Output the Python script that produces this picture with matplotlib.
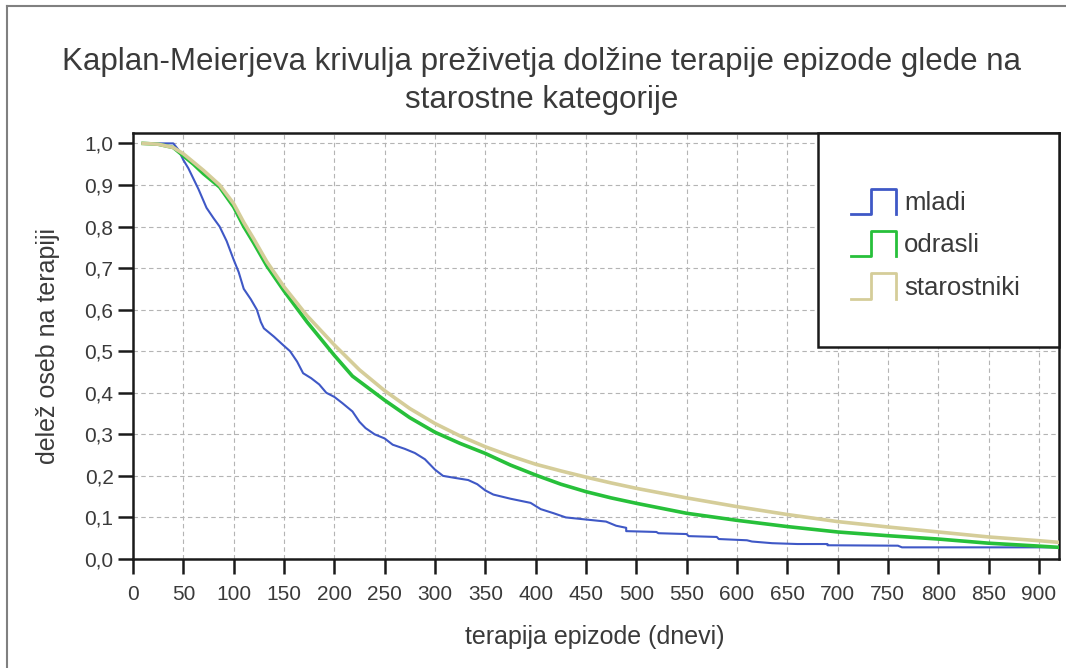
"""Kaplan-Meier survival curves of therapy episode length by age group."""
import matplotlib

matplotlib.use("Agg")
import matplotlib.pyplot as plt
from matplotlib.legend_handler import HandlerBase
from matplotlib.lines import Line2D
from matplotlib.patches import Rectangle
from matplotlib.ticker import FuncFormatter

plt.rcParams["font.family"] = ["Liberation Sans", "DejaVu Sans"]

# mladi (KM estimate; repeated x values mark the visible drops)
days_young = [10, 40, 45, 50, 55, 60, 65, 73, 80, 86, 93, 100, 105, 110, 117,
              123, 127, 130, 140, 149, 156, 163, 169, 177, 185, 192, 200, 208,
              218, 225, 231, 240, 250, 258, 270, 280, 290, 300, 308, 320, 333,
              342, 350, 358, 375, 395, 405, 418, 430, 450, 470, 480, 490, 490,
              520, 522, 550, 552, 580, 582, 610, 615, 635, 660, 690, 690, 760,
              764, 920]
surv_young = [1.0, 1.0, 0.985, 0.96, 0.94, 0.915, 0.89, 0.845, 0.82, 0.80, 0.765,
              0.72, 0.69, 0.65, 0.625, 0.60, 0.57, 0.555, 0.535, 0.515, 0.50,
              0.475, 0.447, 0.435, 0.42, 0.40, 0.39, 0.375, 0.355, 0.33, 0.315,
              0.30, 0.29, 0.275, 0.265, 0.255, 0.24, 0.215, 0.20, 0.195, 0.19,
              0.18, 0.165, 0.155, 0.145, 0.135, 0.12, 0.11, 0.10, 0.095, 0.09,
              0.08, 0.075, 0.067, 0.065, 0.062, 0.06, 0.055, 0.053, 0.048, 0.045,
              0.042, 0.038, 0.036, 0.036, 0.033, 0.032, 0.028, 0.028]

# odrasli
days_adult = [10, 25, 40, 50, 60, 70, 86, 100, 110, 120, 133, 150, 173, 200,
              218, 250, 275, 300, 325, 350, 375, 400, 425, 450, 475, 500, 550,
              600, 650, 700, 750, 800, 850, 900, 920]
surv_adult = [1.0, 0.998, 0.99, 0.97, 0.95, 0.927, 0.895, 0.847, 0.80, 0.76,
              0.705, 0.645, 0.57, 0.49, 0.44, 0.382, 0.34, 0.305, 0.278, 0.254,
              0.226, 0.202, 0.18, 0.162, 0.147, 0.134, 0.11, 0.093, 0.078,
              0.065, 0.056, 0.048, 0.038, 0.031, 0.028]

# starostniki
days_old = [10, 25, 40, 50, 60, 70, 86, 100, 110, 120, 133, 150, 173, 200,
            225, 250, 275, 300, 325, 350, 375, 400, 425, 450, 475, 500, 550,
            600, 650, 700, 750, 800, 850, 900, 920]
surv_old = [1.0, 0.998, 0.99, 0.975, 0.955, 0.935, 0.90, 0.855, 0.81, 0.77,
            0.715, 0.655, 0.585, 0.515, 0.455, 0.405, 0.362, 0.326, 0.296, 0.27,
            0.248, 0.228, 0.212, 0.197, 0.183, 0.17, 0.147, 0.126, 0.107, 0.09,
            0.077, 0.065, 0.053, 0.044, 0.04]

groups = ["mladi", "odrasli", "starostniki"]
x_ticks = list(range(0, 901, 50))
y_ticks = [i / 10 for i in range(11)]

COLORS = {"mladi": "#3f58c6", "odrasli": "#27c03a", "starostniki": "#d5cd99",
          "ink": "#1a1a1a", "text": "#3a3a3a", "grid": "#b4b4b4"}


class HandlerStep(HandlerBase):
    """Step-shaped legend key like the SPSS survival legend."""

    def create_artists(self, legend, orig_handle, xdescent, ydescent,
                       width, height, fontsize, trans):
        x0, y0 = -xdescent, -ydescent
        xs = [x0, x0 + 0.45 * width, x0 + 0.45 * width, x0 + width, x0 + width]
        ys = [y0, y0, y0 + height, y0 + height, y0]
        line = Line2D(xs, ys, color=orig_handle.get_color(),
                      linewidth=2, transform=trans)
        return [line]


def main():
    fig = plt.figure(figsize=(10.66, 6.68), dpi=100)
    ax = fig.add_axes([0.1248, 0.1632, 0.8686, 0.6377])

    ax.plot(days_young, surv_young, color=COLORS["mladi"], linewidth=1.5,
            label=groups[0], zorder=3)
    ax.plot(days_adult, surv_adult, color=COLORS["odrasli"],
            linewidth=2.6, label=groups[1], zorder=3)
    ax.plot(days_old, surv_old, color=COLORS["starostniki"],
            linewidth=2.6, label=groups[2], zorder=3.1)

    ax.set_xlim(0, 920)
    ax.set_ylim(0, 1.025)
    ax.set_xticks(x_ticks)
    ax.set_yticks(y_ticks)
    ax.yaxis.set_major_formatter(FuncFormatter(lambda v, p: f"{v:.1f}".replace(".", ",")))
    ax.grid(True, color=COLORS["grid"], linestyle=(0, (4, 3)), linewidth=0.8)
    ax.set_axisbelow(True)

    for side in ["top", "right", "left", "bottom"]:
        ax.spines[side].set_linewidth(1.8)
        ax.spines[side].set_color(COLORS["ink"])
    ax.tick_params(direction="out", length=11, width=1.8, colors=COLORS["ink"],
                   labelsize=15, labelcolor=COLORS["text"])
    ax.tick_params(axis="x", pad=8)
    ax.tick_params(axis="y", pad=3)

    ax.set_xlabel("terapija epizode (dnevi)", fontsize=18, color=COLORS["text"],
                  va="center")
    ax.set_ylabel("delež oseb na terapiji", fontsize=18, color=COLORS["text"],
                  va="center")
    ax.xaxis.set_label_coords(0.499, -0.183)
    ax.yaxis.set_label_coords(-0.092, 0.5)

    fig.text(0.508, 0.907, "Kaplan-Meierjeva krivulja preživetja dolžine terapije epizode glede na",
             ha="center", va="center", fontsize=22.5, color=COLORS["text"])
    fig.text(0.508, 0.850, "starostne kategorije",
             ha="center", va="center", fontsize=22.5, color=COLORS["text"])

    # Legend box sitting in the top-right corner of the plot
    box = Rectangle((0.740, 0.498), 0.260, 0.502, transform=ax.transAxes,
                    facecolor="white", edgecolor=COLORS["ink"], linewidth=1.8,
                    zorder=4, clip_on=False)
    ax.add_patch(box)
    leg = ax.legend(loc="center left", bbox_to_anchor=(0.7754, 0.739),
                    frameon=False, borderpad=0, borderaxespad=0, fontsize=18.5,
                    handler_map={Line2D: HandlerStep()}, handlelength=1.75,
                    handleheight=1.15, handletextpad=0.32, labelspacing=0.61)
    leg.set_zorder(5)
    for t in leg.get_texts():
        t.set_color(COLORS["text"])

    # Outer frame of the exported chart
    fig.add_artist(Line2D([7 / 1066, 7 / 1066], [0, 1 - 6 / 668], color="#808080",
                          linewidth=1.5, transform=fig.transFigure))
    fig.add_artist(Line2D([7 / 1066, 1], [1 - 6 / 668, 1 - 6 / 668], color="#808080",
                          linewidth=1.5, transform=fig.transFigure))

    fig.savefig("out.png", dpi=100)


if __name__ == "__main__":
    main()
